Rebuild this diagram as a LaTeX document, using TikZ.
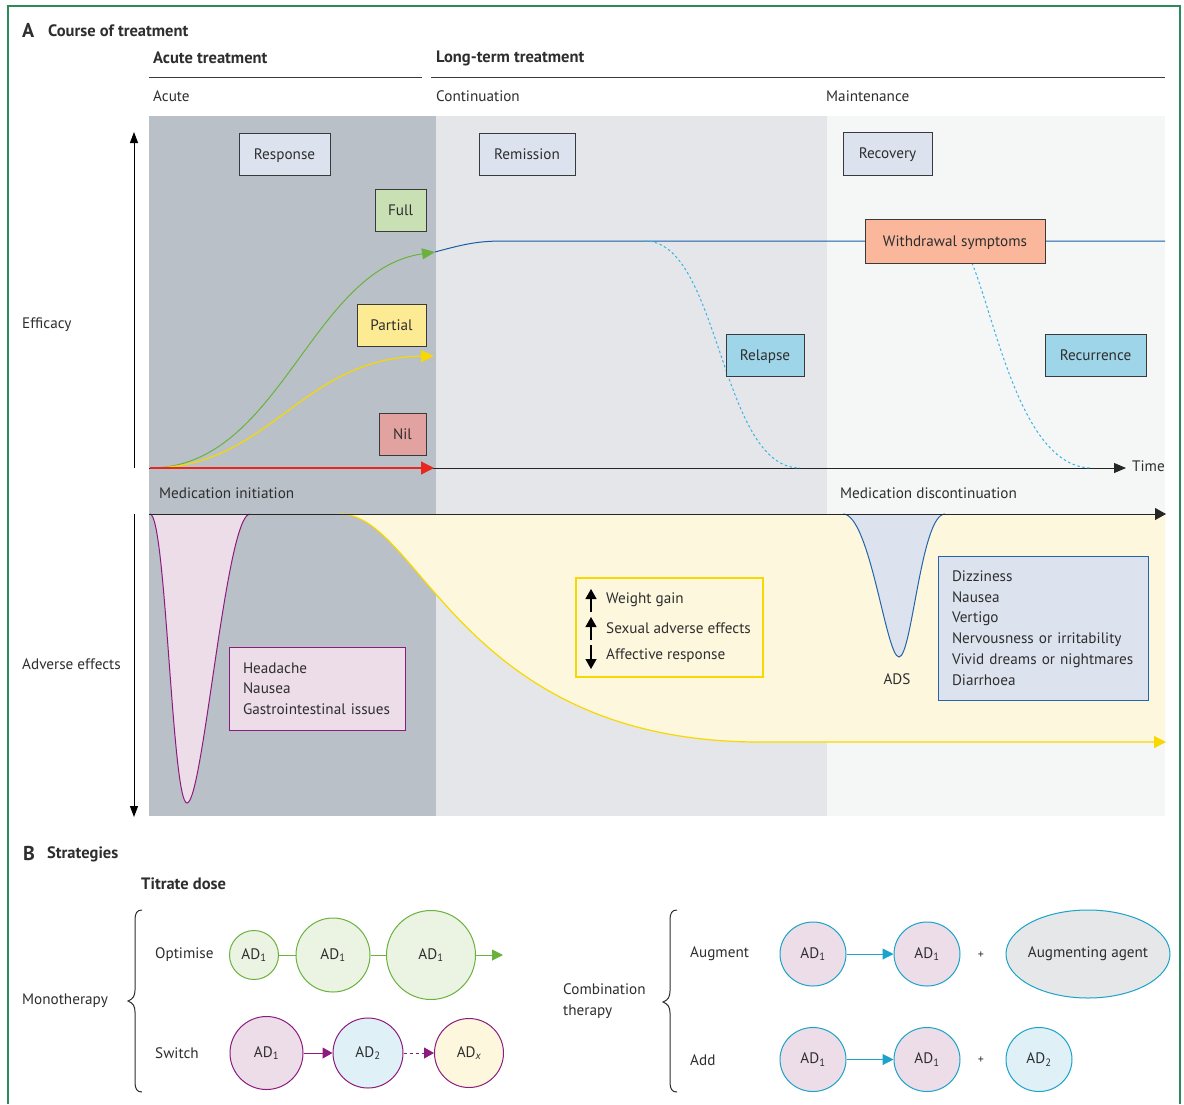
\documentclass[tikz,border=0pt]{standalone}
\usepackage{fontspec}
\setmainfont{PT Sans}
\usetikzlibrary{arrows.meta,shapes.geometric}
\definecolor{txt}{HTML}{2E2E2E}
\definecolor{framegreen}{HTML}{2A8C5C}
\definecolor{bandA}{HTML}{B9C0C7}
\definecolor{bandB}{HTML}{E4E6EA}
\definecolor{bandC}{HTML}{F5F6F6}
\definecolor{boxline}{HTML}{3A3A3A}
\definecolor{lavender}{HTML}{DDE3EE}
\definecolor{fullg}{HTML}{C9DFB4}
\definecolor{partialy}{HTML}{FDEB94}
\definecolor{nilr}{HTML}{E2A29F}
\definecolor{withdr}{HTML}{FAB79B}
\definecolor{relb}{HTML}{9ED5E8}
\definecolor{gcol}{HTML}{6AB23D}
\definecolor{gfill}{HTML}{EBF3E3}
\definecolor{ycol}{HTML}{F7D800}
\definecolor{yfill}{HTML}{FDF7DE}
\definecolor{rcol}{HTML}{E8281E}
\definecolor{navy}{HTML}{1A5EA8}
\definecolor{dcol}{HTML}{3BB4E5}
\definecolor{pcol}{HTML}{8C1B7F}
\definecolor{pfill}{HTML}{ECDDE8}
\definecolor{adsb}{HTML}{2265A8}
\definecolor{cyan2}{HTML}{1BA3C9}
\definecolor{lblue}{HTML}{DFF0F7}
\definecolor{agray}{HTML}{E6E7E9}
\tikzset{
  lab/.style={text=txt, inner sep=0pt},
  hdr/.style={lab, font=\fontsize{16.5}{18}\selectfont\bfseries},
  stagebox/.style={draw=boxline, line width=0.9pt, inner sep=0pt, minimum height=42pt, text=txt, text height=10.5pt, text depth=0.5pt},
  tipA/.style={-{Triangle[length=12pt,width=10pt]}},
  optc/.style={circle, draw=gcol, fill=gfill, line width=1pt, inner sep=0pt, text=txt},
  swc/.style={circle, draw=pcol, line width=1pt, inner sep=0pt, text=txt},
  combe/.style={ellipse, draw=cyan2, line width=1pt, inner sep=0pt, minimum width=66pt, minimum height=64pt, text=txt},
  smallup/.style={black, line width=1.3pt, -{Triangle[length=10pt,width=11pt]}},
}
\newcommand{\subone}{\textsubscript{1}}
\begin{document}
\begin{tikzpicture}[x=1pt,y=-1pt, font=\fontsize{15.2}{18}\selectfont]
\useasboundingbox (0,0) rectangle (1184,1104);
\fill[white] (0,0) rectangle (1184,1104);
% frame
\draw[framegreen, line width=1.2pt] (8,1104) -- (8,6) -- (1180,6) -- (1180,1104);

% bands
\fill[bandA] (149,116) rectangle (436,816);
\fill[bandB] (436,116) rectangle (827,816);
\fill[bandC] (827,116) rectangle (1165,816);

% headers
\node[lab, anchor=west, font=\fontsize{20}{21}\selectfont\bfseries] (hA) at (22,30) {A};
\node[hdr, anchor=west] (hAt) at (48,31) {Course of treatment};
\node[hdr, anchor=west] (hacute) at (153,58) {Acute treatment};
\node[hdr, anchor=west] (hlong) at (436,58) {Long-term treatment};
\draw[boxline, line width=1pt] (149,77) -- (422,77);
\draw[boxline, line width=1pt] (431,77) -- (1165,77);
\node[lab, anchor=west] (sacute) at (153,96) {Acute};
\node[lab, anchor=west] (scont) at (436,96) {Continuation};
\node[lab, anchor=west] (smaint) at (826,96) {Maintenance};

% yellow adverse region
\coordinate (ys) at (340,514);
\coordinate (yk) at (760,742);
\coordinate (ye) at (1166,742);
\fill[yfill] (ys) .. controls (420,514) and (460,742) .. (yk) -- (1165,742) -- (1165,514) -- cycle;
\draw[ycol, line width=1.2pt, -{Triangle[length=12pt,width=12pt]}] (ys) .. controls (420,514) and (460,742) .. (yk) -- (ye);

% purple dip
\coordinate (ps) at (150,514);
\coordinate (pb) at (187,803);
\coordinate (pe) at (250,514);
\filldraw[fill=pfill, draw=pcol, line width=1pt] (ps) .. controls (166,514) and (172,803) .. (pb) .. controls (203,803) and (226,514) .. (pe);

% ADS dip
\coordinate (as) at (843,514);
\coordinate (ab) at (899,657);
\coordinate (ae) at (945,514);
\filldraw[fill=lavender, draw=adsb, line width=1pt] (as) .. controls (870,514) and (886,657) .. (ab) .. controls (912,657) and (921,514) .. (ae);
\draw[adsb, line width=1pt] (ae) -- (995,514);

% axes
\coordinate (effbot) at (134,468);
\coordinate (efftop) at (134,132);
\coordinate (advtop) at (134,514);
\coordinate (advbot) at (134,817);
\coordinate (t0) at (149,468);
\coordinate (t1) at (1126,468);
\coordinate (a0) at (149,514);
\coordinate (a1) at (1166,514);
\draw[black, line width=1pt, -{Triangle[length=11pt,width=8pt]}] (effbot) -- (efftop);
\draw[black, line width=1pt, -{Triangle[length=11pt,width=8pt]}] (advtop) -- (advbot);
\draw[black!85, line width=1pt, tipA] (t0) -- (t1);
\draw[black!85, line width=1pt, -{Triangle[length=11pt,width=12pt]}] (a0) -- (a1);

% efficacy curves
\coordinate (o) at (150,468);
\coordinate (gEnd) at (435,252);
\coordinate (yEnd) at (434,356);
\coordinate (rEnd) at (434,468);
\draw[navy, line width=1pt] (gEnd) .. controls (468,243) and (480,241) .. (505,241) -- (1165,241);
\draw[dcol, line width=1pt, dash pattern=on 2.5pt off 2.5pt] (645,241) .. controls (720,241) and (720,468) .. (800,468);
\draw[dcol, line width=1pt, dash pattern=on 2.5pt off 2.5pt] (972,263) .. controls (997,325) and (1022,468) .. (1092,468);
\draw[gcol, line width=1pt, -{Triangle[length=13pt,width=11pt]}] (o) .. controls (280,468) and (310,270) .. (gEnd);
\draw[ycol, line width=1.2pt, -{Triangle[length=13pt,width=12pt]}] (o) .. controls (270,468) and (300,358) .. (yEnd);
\draw[rcol, line width=1.3pt, -{Triangle[length=13pt,width=13pt]}] (o) -- (rEnd);

% stage boxes
\node[stagebox, fill=lavender, minimum width=91pt] (resp) at (284.5,154) {Response};
\node[stagebox, fill=fullg, minimum width=51pt] (full) at (400.5,210) {Full};
\node[stagebox, fill=partialy, minimum width=69pt] (partial) at (391.5,325) {Partial};
\node[stagebox, fill=nilr, minimum width=47pt] (nil) at (402.5,434) {Nil};
\node[stagebox, fill=lavender, minimum width=96pt] (remis) at (527,154) {Remission};
\node[stagebox, fill=lavender, minimum width=89pt, minimum height=43pt] (recov) at (887.5,153.5) {Recovery};
\node[stagebox, fill=withdr, minimum width=180pt, minimum height=44pt] (withd) at (955,241) {Withdrawal symptoms};
\node[stagebox, fill=relb, minimum width=78pt] (relapse) at (765,355) {Relapse};
\node[stagebox, fill=relb, minimum width=101pt] (recur) at (1095.5,355) {Recurrence};

% axis labels
\node[lab, anchor=west] (eff) at (22,325) {Efficacy};
\node[lab, anchor=west] (time) at (1132,466) {Time};
\node[lab, anchor=west] (minit) at (159,493) {Medication initiation};
\node[lab, anchor=west] (mdisc) at (840,493) {Medication discontinuation};
\node[lab, anchor=west] (adv) at (22,664) {Adverse effects};
\node[lab] (ads) at (897,679) {ADS};

% adverse effect boxes
\node[draw=pcol, fill=pfill, line width=1pt, minimum width=176pt, minimum height=83pt, inner xsep=14pt, inner ysep=0pt, text width=148pt, align=left, text=txt, font=\fontsize{15.2}{20.5}\selectfont] (headache) at (317,688.5) {Headache\\Nausea\\Gastrointestinal issues};
\node[draw=ycol, fill=yfill, line width=1.2pt, minimum width=187pt, minimum height=99pt, inner sep=0pt] (wbox) at (669.5,627.5) {};
\node[lab, anchor=west] (wg) at (606,600) {Weight gain};
\node[lab, anchor=west] (sx) at (606,628) {Sexual adverse effects};
\node[lab, anchor=west] (af) at (606,656) {Affective response};
\draw[smallup] (591,612) -- (591,589);
\draw[smallup] (591,640) -- (591,617);
\draw[smallup] (591,645) -- (591,669);
\node[draw=adsb, fill=lavender, line width=1pt, minimum width=210pt, minimum height=144pt, inner xsep=14pt, inner ysep=0pt, text width=182pt, align=left, text=txt, font=\fontsize{15.2}{20.8}\selectfont] (dizz) at (1043,628) {Dizziness\\Nausea\\Vertigo\\Nervousness or irritability\\Vivid dreams or nightmares\\Diarrhoea};

% ===== Section B =====
\node[lab, anchor=west, font=\fontsize{20}{21}\selectfont\bfseries] (hB) at (23,853) {B};
\node[hdr, anchor=west] (hBt) at (47,854) {Strategies};
\node[hdr, anchor=west] (titr) at (141,884) {Titrate dose};

% left brace
\draw[txt, line width=1pt] (142,910) .. controls (137,910) and (135,913) .. (135,920) -- (135,990) .. controls (135,996) and (133,999) .. (128,1001) .. controls (133,1003) and (135,1006) .. (135,1012) -- (135,1082) .. controls (135,1089) and (137,1092) .. (142,1092);
\node[lab, anchor=west] (mono) at (22,1001) {Monotherapy};
\node[lab, anchor=west] (optl) at (155,955) {Optimise};
\node[lab, anchor=west] (swl) at (155,1053) {Switch};

\node[optc, minimum size=49pt] (o1) at (254,955) {AD\subone};
\node[optc, minimum size=74pt] (o2) at (333,955) {AD\subone};
\node[optc, minimum size=89pt] (o3) at (431,955) {AD\subone};
\coordinate (oend) at (503,955);
\draw[gcol, line width=1pt] (o1) -- (o2);
\draw[gcol, line width=1pt] (o2) -- (o3);
\draw[gcol, line width=1pt, -{Triangle[length=11pt,width=11pt]}] (o3) -- (oend);

\node[swc, fill=pfill, minimum size=73pt] (s1) at (266.5,1053) {AD\subone};
\node[swc, fill=lblue, minimum size=70pt] (s2) at (368,1053) {AD\textsubscript{2}};
\node[swc, fill=yfill, minimum size=69pt] (s3) at (469,1053) {AD\textsubscript{\itshape x}};
\draw[pcol, line width=1pt, -{Triangle[length=10pt,width=11pt]}] (s1) -- (s2);
\draw[pcol, line width=1pt, dash pattern=on 3pt off 3pt, -{Triangle[length=10pt,width=11pt]}] (s2) -- (s3);

% right brace
\draw[txt, line width=1pt] (677,910) .. controls (672,910) and (670,913) .. (670,920) -- (670,991) .. controls (670,997) and (668,1000) .. (663,1002) .. controls (668,1004) and (670,1007) .. (670,1013) -- (670,1082) .. controls (670,1089) and (672,1092) .. (677,1092);
\node[lab, anchor=west, align=left, font=\fontsize{15.2}{21}\selectfont] (comb) at (563,1001) {Combination\\therapy};
\node[lab, anchor=west] (augl) at (690,954) {Augment};
\node[lab, anchor=west] (addl) at (690,1060) {Add};

\node[combe, fill=pfill] (ca1) at (813,954) {AD\subone};
\node[combe, fill=pfill] (ca2) at (927,954) {AD\subone};
\node[lab, font=\fontsize{12}{13}\selectfont] (plus1) at (981,955) {+};
\node[combe, fill=agray, minimum width=164pt, minimum height=88pt, inner xsep=-12pt] (agent) at (1088,954) {Augmenting agent};
\draw[cyan2, line width=1pt, -{Triangle[length=11pt,width=11pt]}] (ca1) -- (ca2);

\node[combe, fill=pfill] (cd1) at (813,1059.5) {AD\subone};
\node[combe, fill=pfill] (cd2) at (927,1059.5) {AD\subone};
\node[lab, font=\fontsize{12}{13}\selectfont] (plus2) at (981,1060.5) {+};
\node[combe, fill=lblue] (cd3) at (1039,1059.5) {AD\textsubscript{2}};
\draw[cyan2, line width=1pt, -{Triangle[length=11pt,width=11pt]}] (cd1) -- (cd2);
\end{tikzpicture}
\end{document}
